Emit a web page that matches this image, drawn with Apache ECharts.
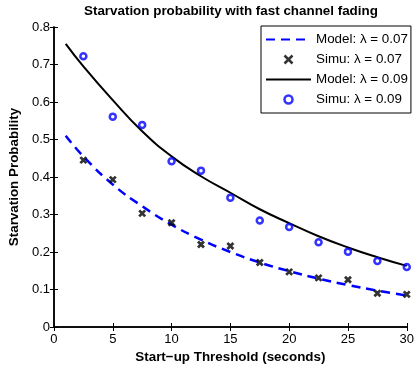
<!DOCTYPE html>
<html>
<head>
<meta charset="utf-8">
<script src="https://cdn.jsdelivr.net/npm/echarts@6/dist/echarts.min.js"></script>
<style>html,body{margin:0;padding:0;background:#fff}#c{width:417px;height:370px}</style>
</head>
<body>
<div id="c"></div>
<script>
const thresholds = [2.5, 5, 7.5, 10, 12.5, 15, 17.5, 20, 22.5, 25, 27.5, 30];
const simu007 = [0.445, 0.393, 0.303, 0.278, 0.220, 0.216, 0.172, 0.147, 0.131, 0.126, 0.090, 0.087];
const simu009 = [0.722, 0.561, 0.539, 0.442, 0.417, 0.345, 0.284, 0.267, 0.226, 0.201, 0.176, 0.160];
const modelX = [1, 2.5, 5, 7.5, 10, 12.5, 15, 17.5, 20, 22.5, 25, 27.5, 30];
const model007 = [0.51, 0.455, 0.38, 0.322, 0.273, 0.233, 0.200, 0.172, 0.149, 0.129, 0.112, 0.097, 0.084];
const model009 = [0.755, 0.695, 0.605, 0.522, 0.455, 0.402, 0.358, 0.314, 0.277, 0.242, 0.212, 0.186, 0.163];
const xTicks = [0, 30, 5];
const yTicks = [0, 0.8, 0.1];
const names = ['Model: λ = 0.07', 'Simu: λ = 0.07', 'Model: λ = 0.09', 'Simu: λ = 0.09'];

const pair = (xs, ys) => xs.map((x, i) => [x, ys[i]]);
const font = '"Liberation Sans", Arial, Helvetica, sans-serif';
const crossPath = 'path://M0,0L10,10M10,0L0,10';
const axisCommon = {
  type: 'value',
  axisLine: { show: true, lineStyle: { color: '#000', width: 1.5 } },
  axisTick: { show: true, inside: true, length: 4, lineStyle: { color: '#000', width: 1 } },
  splitLine: { show: false }
};
const boldText = { fontSize: 13.4, fontWeight: 'bold', color: '#000', fontFamily: font };
const chart = echarts.init(document.getElementById('c'), null, { renderer: 'canvas' });
chart.setOption({
  animation: false,
  backgroundColor: '#fff',
  textStyle: { fontFamily: font },
  title: {
    text: 'Starvation probability with fast channel fading',
    left: 84, top: 5, padding: 0,
    textStyle: boldText
  },
  grid: { left: 51, right: 5, top: 27, bottom: 43 },
  legend: {
    orient: 'vertical', left: 261, top: 26,
    backgroundColor: '#fff', borderColor: '#000', borderWidth: 1,
    padding: [7, 3, 7, 4], itemGap: 7, itemWidth: 45, itemHeight: 8,
    textStyle: { fontSize: 13.4, color: '#000', fontFamily: font },
    data: [
      { name: names[0], itemStyle: { opacity: 0 } },
      { name: names[1], itemStyle: { color: 'none', borderColor: '#000', borderWidth: 2.5 } },
      { name: names[2], itemStyle: { opacity: 0 } },
      { name: names[3], itemStyle: { color: 'transparent', borderColor: '#0000ff', borderWidth: 2.5 } }
    ]
  },
  xAxis: [
    Object.assign({}, axisCommon, {
      min: xTicks[0], max: xTicks[1], interval: xTicks[2], position: 'bottom',
      axisLabel: { fontSize: 13, color: '#000', margin: 6, fontFamily: font, alignMaxLabel: 'center' },
      name: 'Start−up Threshold (seconds)', nameLocation: 'middle', nameGap: 20,
      nameTextStyle: boldText
    }),
    Object.assign({}, axisCommon, {
      min: xTicks[0], max: xTicks[1], interval: xTicks[2], position: 'top',
      axisLabel: { show: false }
    })
  ],
  yAxis: [
    Object.assign({}, axisCommon, {
      min: yTicks[0], max: yTicks[1], interval: yTicks[2], position: 'left',
      axisLabel: { fontSize: 13, color: '#000', margin: 4, fontFamily: font,
        formatter: v => (Math.abs(v) < 1e-9 ? '0' : v.toFixed(1)) },
      name: 'Starvation Probability', nameLocation: 'middle', nameGap: 24, nameRotate: 90,
      nameTextStyle: boldText
    }),
    Object.assign({}, axisCommon, {
      min: yTicks[0], max: yTicks[1], interval: yTicks[2], position: 'right',
      axisLabel: { show: false }
    })
  ],
  series: [
    {
      name: names[0], type: 'line', data: pair(modelX, model007), smooth: true,
      symbol: 'none', z: 2,
      lineStyle: { color: '#0000ff', width: 2.5, type: [9, 6] },
      itemStyle: { color: '#0000ff' }
    },
    {
      name: names[1], type: 'scatter', data: pair(thresholds, simu007),
      symbol: crossPath, symbolSize: 6, z: 4,
      itemStyle: { color: 'none', borderColor: '#000', borderWidth: 2.8 }
    },
    {
      name: names[2], type: 'line', data: pair(modelX, model009), smooth: true,
      symbol: 'none', z: 2,
      lineStyle: { color: '#000', width: 2 },
      itemStyle: { color: '#000' }
    },
    {
      name: names[3], type: 'scatter', data: pair(thresholds, simu009),
      symbol: 'circle', symbolSize: 6, z: 4,
      itemStyle: { color: 'transparent', borderColor: '#0000ff', borderWidth: 2.5 }
    }
  ]
});
</script>
</body>
</html>
